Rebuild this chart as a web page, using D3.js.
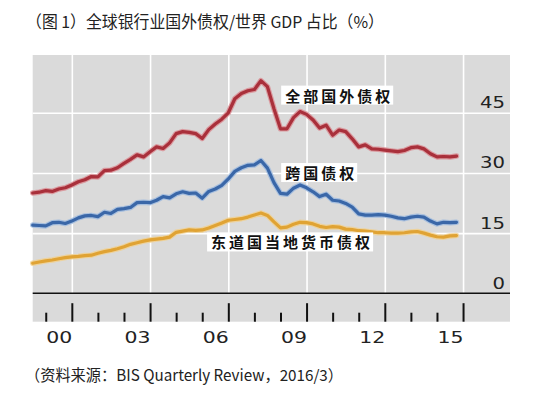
<!DOCTYPE html>
<html>
<head>
<meta charset="utf-8">
<script src="https://cdn.jsdelivr.net/npm/d3@7"></script>
<style>
  html, body { margin: 0; padding: 0; background: #fff; }
  svg { display: block; }
</style>
</head>
<body>
<svg id="chart" width="554" height="395"></svg>
<script>
// ---------- DATA ----------
const quarters = [
  "1999Q3","1999Q4",
  "2000Q1","2000Q2","2000Q3","2000Q4",
  "2001Q1","2001Q2","2001Q3","2001Q4",
  "2002Q1","2002Q2","2002Q3","2002Q4",
  "2003Q1","2003Q2","2003Q3","2003Q4",
  "2004Q1","2004Q2","2004Q3","2004Q4",
  "2005Q1","2005Q2","2005Q3","2005Q4",
  "2006Q1","2006Q2","2006Q3","2006Q4",
  "2007Q1","2007Q2","2007Q3","2007Q4",
  "2008Q1","2008Q2","2008Q3","2008Q4",
  "2009Q1","2009Q2","2009Q3","2009Q4",
  "2010Q1","2010Q2","2010Q3","2010Q4",
  "2011Q1","2011Q2","2011Q3","2011Q4",
  "2012Q1","2012Q2","2012Q3","2012Q4",
  "2013Q1","2013Q2","2013Q3","2013Q4",
  "2014Q1","2014Q2","2014Q3","2014Q4",
  "2015Q1","2015Q2","2015Q3","2015Q4"
];
// 全部国外债权
const totalClaims = [
  25.0,25.2,
  25.6,25.4,26.0,26.3,
  27.0,27.8,28.3,29.1,
  29.0,30.6,30.7,31.3,
  32.4,33.4,34.5,34.0,
  35.3,36.5,36.1,37.5,
  39.8,40.3,40.1,39.8,
  38.6,40.8,42.2,43.4,
  45.0,48.5,49.8,50.5,
  50.8,53.0,51.5,46.0,
  41.0,41.0,43.8,45.3,
  44.6,43.2,41.2,41.9,
  39.4,40.7,40.3,38.5,
  36.5,37.0,36.0,35.9,
  35.7,35.5,35.3,35.6,
  36.3,36.5,36.0,34.8,
  34.0,34.1,34.0,34.2
];
// 跨国债权
const crossBorder = [
  17.0,16.9,
  16.8,17.6,17.7,17.4,
  18.0,18.8,19.3,19.4,
  19.1,20.2,19.9,20.9,
  21.1,21.4,22.6,22.7,
  22.6,23.2,24.1,23.8,
  24.8,25.3,24.9,25.0,
  23.7,25.4,26.0,26.9,
  28.5,30.4,31.3,31.9,
  32.0,33.1,31.2,27.6,
  24.9,24.7,26.2,27.0,
  26.3,25.3,24.1,24.7,
  23.2,23.0,22.4,21.5,
  19.8,19.5,19.5,19.6,
  19.5,19.2,18.8,18.6,
  19.0,19.2,19.0,18.0,
  17.3,17.7,17.6,17.7
];
// 东道国当地货币债权
const localCurrency = [
  7.5,7.8,
  8.1,8.3,8.6,8.9,
  9.1,9.2,9.4,9.5,
  10.0,10.4,10.7,11.1,
  11.6,12.2,12.6,13.0,
  13.3,13.5,13.7,14.0,
  15.2,15.5,15.8,15.7,
  15.8,16.3,16.9,17.5,
  18.2,18.4,18.6,19.0,
  19.5,20.0,19.4,17.8,
  16.3,16.5,17.2,17.7,
  17.6,17.3,16.7,16.4,
  16.6,16.5,16.0,15.9,
  15.6,15.5,15.3,15.1,
  15.1,15.0,15.0,15.1,
  15.3,15.4,15.0,14.5,
  14.1,14.0,14.3,14.4
];
const seriesNames = ["全部国外债权", "跨国债权", "东道国当地货币债权"];
const yTickValues = [0, 15, 30, 45];
const yearTicks = [2000,2001,2002,2003,2004,2005,2006,2007,2008,2009,2010,2011,2012,2013,2014,2015,2016];
const majorYears = [2001,2004,2007,2010,2013,2016];
const xLabelYears = [2000,2003,2006,2009,2012,2015];
const xLabelText = ["00","03","06","09","12","15"];
// label anchors in data space [year, value]
const labelAnchors = [[2009.18, 49.4], [2009.18, 30.1], [2006.34, 12.8]];
const titleText = "（图 1）全球银行业国外债权/世界 GDP 占比（%）";
const sourceText = "（资料来源：BIS Quarterly Review，2016/3）";

// ---------- LAYOUT ----------
const W = 554, H = 395;
const plot = { left: 32.7, right: 510, top: 55, base: 293.3, bottom: 321.7 };
const colors = {
  core: ["#a9303b", "#3a67a8", "#e0a334"],
  halo: ["#d98a90", "#9ab8df", "#f1d08c"]
};

const svg = d3.select("#chart");

const toT = q => +q.slice(0,4) + (+q.slice(5) - 1) / 4;

const x = d3.scaleLinear().domain([1999.5, 2017.8]).range([plot.left, plot.right]);
const y = d3.scaleLinear().domain([0, 59.4]).range([plot.base, plot.top]);

// background
svg.append("rect")
  .attr("x", plot.left).attr("y", plot.top)
  .attr("width", plot.right - plot.left)
  .attr("height", plot.bottom - plot.top)
  .attr("fill", "#dadada");

// horizontal gridlines (y axis)
const yAxis = d3.axisLeft(y).tickValues(yTickValues).tickSize(plot.right - plot.left).tickFormat(d3.format("d"));
const gy = svg.append("g").attr("transform", `translate(${plot.right},0)`).call(yAxis);
gy.select(".domain").remove();
gy.selectAll(".tick line").attr("stroke", d => d === 0 ? "none" : "#ffffff").attr("stroke-width", 1.6);
gy.selectAll(".tick text")
  .attr("x", -5).attr("dy", -5).attr("dominant-baseline", "auto")
  .attr("text-anchor", "end")
  .attr("font-family", "DejaVu Sans, Verdana, sans-serif")
  .attr("font-size", 15).attr("fill", "#222")
  .attr("textLength", d => String(d).length * 12.5)
  .attr("lengthAdjust", "spacingAndGlyphs");

// vertical gridlines at major years
const gv = svg.append("g").call(
  d3.axisTop(x).tickValues(majorYears).tickSize(-(plot.base - plot.top)).tickFormat("")
).attr("transform", `translate(0,${plot.top})`);
gv.select(".domain").remove();
gv.selectAll(".tick line").attr("stroke", "#ffffff").attr("stroke-width", 1.6);

// lines
const lineGen = d3.line().x((d, i) => x(toT(quarters[i]))).y(d => y(d)).curve(d3.curveLinear);
[totalClaims, crossBorder, localCurrency].forEach((vals, k) => {
  svg.append("path").datum(vals).attr("d", lineGen)
    .attr("fill", "none").attr("stroke", colors.halo[k]).attr("stroke-width", 5.5)
    .attr("stroke-linejoin", "round").attr("stroke-linecap", "round").attr("opacity", 0.8);
  svg.append("path").datum(vals).attr("d", lineGen)
    .attr("fill", "none").attr("stroke", colors.core[k]).attr("stroke-width", 3.2)
    .attr("stroke-linejoin", "round").attr("stroke-linecap", "round");
});

// baseline
svg.append("line")
  .attr("x1", plot.left).attr("x2", plot.right)
  .attr("y1", y(0)).attr("y2", y(0))
  .attr("stroke", "#111").attr("stroke-width", 1.6);

// year ticks
const gx = svg.append("g").attr("transform", `translate(0,${plot.bottom})`).call(
  d3.axisTop(x).tickValues(yearTicks).tickSizeInner(0).tickSizeOuter(0).tickFormat("")
);
gx.select(".domain").remove();
gx.selectAll(".tick line")
  .attr("y2", d => majorYears.includes(d) ? -18.5 : -9)
  .attr("stroke", "#111").attr("stroke-width", 2);

// x labels
const gxl = svg.append("g").attr("transform", `translate(0,${plot.bottom})`).call(
  d3.axisBottom(x).tickValues(xLabelYears.map(v => v + 0.5)).tickSize(0)
    .tickFormat((d, i) => xLabelText[i])
);
gxl.select(".domain").remove();
gxl.selectAll(".tick text")
  .attr("y", 21).attr("dy", 0)
  .attr("font-family", "DejaVu Sans, Verdana, sans-serif")
  .attr("font-size", 15).attr("fill", "#222")
  .attr("textLength", 26).attr("lengthAdjust", "spacingAndGlyphs");

// series labels with white boxes
labelAnchors.forEach((a, k) => {
  const g = svg.append("g");
  const t = g.append("text")
    .attr("x", x(a[0])).attr("y", y(a[1]))
    .attr("dominant-baseline", "central")
    .attr("font-family", "Noto Sans CJK SC, sans-serif")
    .attr("font-weight", 700).attr("font-size", 15)
    .attr("letter-spacing", 3).attr("fill", "#111")
    .text(seriesNames[k]);
  const bb = t.node().getBBox();
  g.insert("rect", "text")
    .attr("x", bb.x - 4).attr("y", bb.y + 1)
    .attr("width", bb.width + 4).attr("height", bb.height - 2)
    .attr("fill", "#ffffff");
});

// title
svg.append("text")
  .attr("x", 26).attr("y", 28)
  .attr("font-family", "Noto Sans CJK SC, sans-serif")
  .attr("font-size", 16.5).attr("fill", "#222")
  .attr("textLength", 358).attr("lengthAdjust", "spacingAndGlyphs")
  .text(titleText);

// source
svg.append("text")
  .attr("x", 25).attr("y", 381)
  .attr("font-family", "Noto Sans CJK SC, sans-serif")
  .attr("font-size", 15.5).attr("fill", "#222")
  .attr("textLength", 318).attr("lengthAdjust", "spacingAndGlyphs")
  .text(sourceText);
</script>
</body>
</html>
